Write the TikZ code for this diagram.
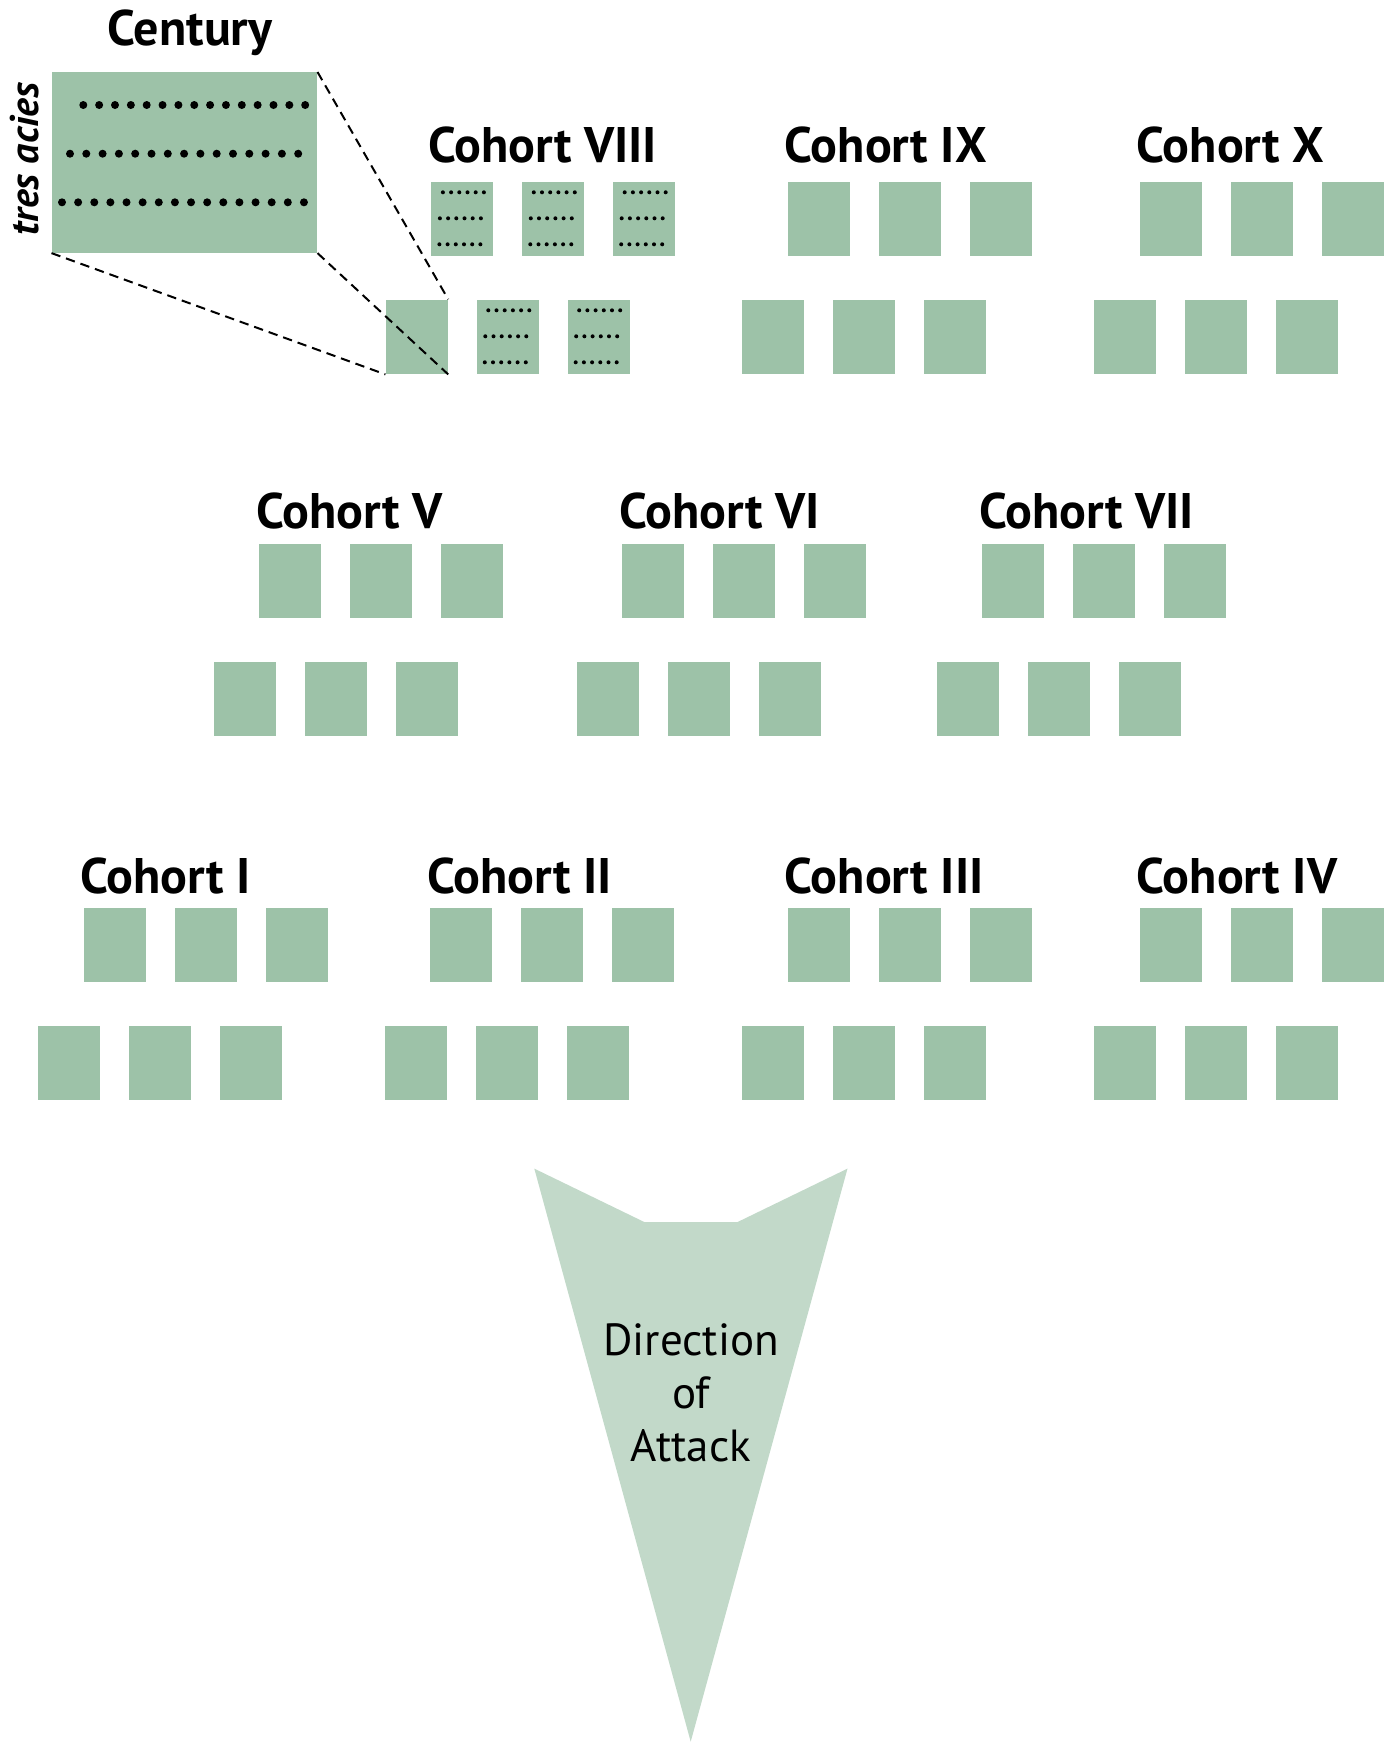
\documentclass[tikz,border=0pt]{standalone}
\usepackage{fontspec}
\setmainfont{PT Sans}
\usetikzlibrary{calc}
\definecolor{unitgreen}{HTML}{9DC2A8}
\definecolor{attackgreen}{HTML}{C2D9C9}
\tikzset{
  centurybox/.style={fill=unitgreen, inner sep=0pt, minimum width=31pt, minimum height=37.15pt, anchor=north west},
  cohortname/.style={font=\bfseries\fontsize{25}{29}\selectfont, anchor=base west, inner sep=0pt},
  zoomline/.style={line width=1pt, dash pattern=on 4.7pt off 3pt}
}
\newcommand{\cohort}[5]{%
  \foreach \i in {0,1,2} {
    \node[centurybox] (#1f\i) at ({#2+45.5+90.9*\i},#3) {};
    \node[centurybox] (#1b\i) at ({#2+90.9*\i},#3+118) {};
  }
  \node[cohortname] (#1name) at ([xshift=-1.6pt,yshift=#5]#1f0.north west) {Cohort #4};
}
\begin{document}
\begin{tikzpicture}[x=0.5pt,y=-0.5pt]
\useasboundingbox (0,0) rectangle (1394,1742);

\node[fill=unitgreen, inner sep=0pt, minimum width=132.6pt, minimum height=90.15pt, anchor=north west] (century) at (51.5,72) {};
\foreach \r/\s/\d/\n in {105/83.3/15.85/14, 153.7/70/16.3/14, 202.3/62/16.13/15}
  \foreach \k in {0,...,\n}
    \fill ({\s+\d*\k},\r) circle (2pt);
\node[font=\bfseries\fontsize{25}{29}\selectfont, anchor=base] (centuryname) at (190,45) {Century};
\node[font=\bfseries\itshape\fontsize{20}{24}\selectfont, rotate=90, anchor=base] (tresacies) at (39,159) {tres acies};

\cohort{c8}{385.4}{181.3}{VIII}{9.5pt}
\cohort{c9}{742}{181.3}{IX}{9.5pt}
\cohort{c10}{1094}{181.3}{X}{9.5pt}
\cohort{c5}{213.3}{543.3}{V}{7.2pt}
\cohort{c6}{576.5}{543.3}{VI}{7.2pt}
\cohort{c7}{936.4}{543.3}{VII}{7.2pt}
\cohort{c1}{37.8}{907.7}{I}{7.2pt}
\cohort{c2}{384.3}{907.7}{II}{7.2pt}
\cohort{c3}{742}{907.7}{III}{7.2pt}
\cohort{c4}{1094}{907.7}{IV}{7.2pt}

\foreach \bx in {c8f0,c8f1,c8f2,c8b1,c8b2}
  \foreach \r/\s in {11/12,37/9,63/8.5}
    \foreach \k in {0,...,5}
      \fill ($(\bx.north west)+({\s+8.2*\k},\r)$) circle (1pt);

\draw[zoomline] (century.north east) -- (c8b0.north east);
\draw[zoomline] (century.south east) -- (c8b0.south east);
\draw[zoomline] (century.south west) -- (c8b0.south west);

\fill[attackgreen] (534.3,1168.6) -- (644.3,1222) -- (737.6,1222) -- (847.5,1168.6) -- (690.7,1741.7) -- cycle;
\node[font=\fontsize{22.5}{26.5}\selectfont, align=center] (direction) at (691,1393) {Direction\\of\\Attack};
\end{tikzpicture}
\end{document}
